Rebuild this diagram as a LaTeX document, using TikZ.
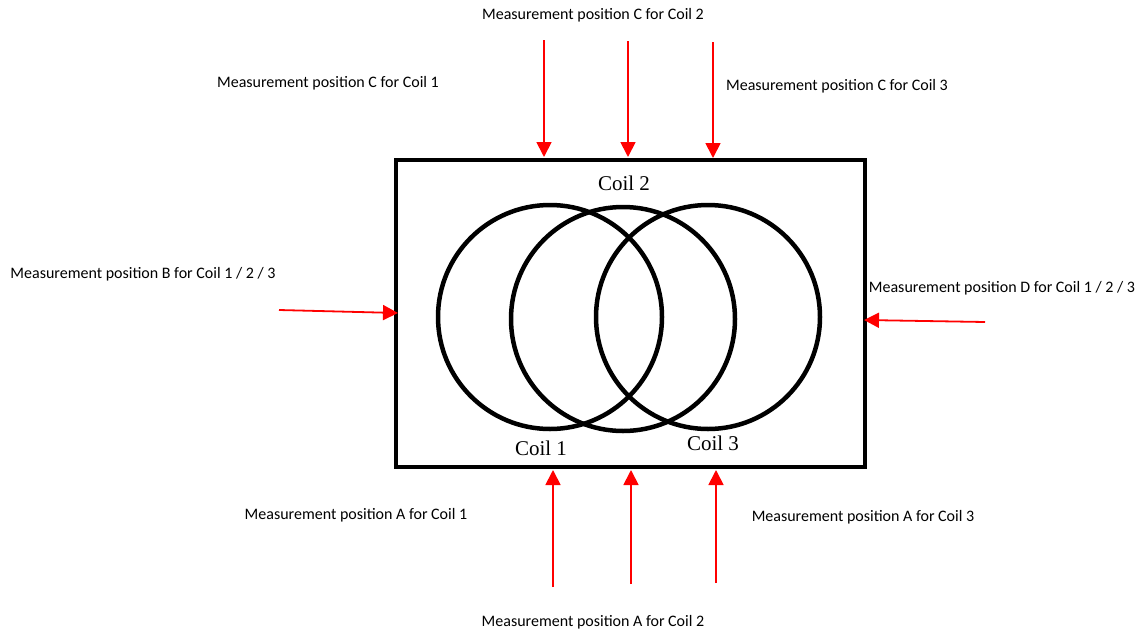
\documentclass[tikz,border=0pt]{standalone}
\usepackage{fontspec}
\setmainfont{Liberation Serif}
\newfontfamily\calib{Carlito}
\usetikzlibrary{arrows.meta}
\tikzset{
  meas/.style={font=\calib\fontsize{16}{19}\selectfont, inner sep=0pt},
  coillabel/.style={font=\fontsize{21}{24}\selectfont, inner sep=0pt},
  coil/.style={draw, circle, line width=4.5pt, minimum size=224pt, inner sep=0pt},
  redarrow/.style={draw=red, line width=1.8pt, -{Triangle[length=15pt,width=15pt]}},
}
\begin{document}
\begin{tikzpicture}[x=1pt,y=-1pt]
\useasboundingbox (0,0) rectangle (1138,635);
% frame
\node[draw, line width=4.5pt, minimum width=469pt, minimum height=307pt, inner sep=0pt, outer sep=0pt, anchor=north west] (frame) at (396,160) {};
% coils
\node[coil] (c1) at (550,317) {};
\node[coil] (c2) at (623,319) {};
\node[coil] (c3) at (708,317) {};
\node[coillabel] (l2) at (624,183) {Coil 2};
\node[coillabel] (l1) at (541,448) {Coil 1};
\node[coillabel] (l3) at (713,443) {Coil 3};
% coordinates for arrows
\coordinate (t1s) at (544,40);  \coordinate (t1e) at (544,157);
\coordinate (t2s) at (628,41);  \coordinate (t2e) at (628,157);
\coordinate (t3s) at (713,42);  \coordinate (t3e) at (713,158);
\coordinate (b1s) at (553,587); \coordinate (b1e) at (553,470);
\coordinate (b2s) at (631,584); \coordinate (b2e) at (631,470);
\coordinate (b3s) at (716,583); \coordinate (b3e) at (716,470);
\coordinate (ls) at (279,310);  \coordinate (le) at (398,313);
\coordinate (rs) at (985,322);  \coordinate (re) at (864,320);
\draw[redarrow] (t1s) -- (t1e);
\draw[redarrow] (t2s) -- (t2e);
\draw[redarrow] (t3s) -- (t3e);
\draw[redarrow] (b1s) -- (b1e);
\draw[redarrow] (b2s) -- (b2e);
\draw[redarrow] (b3s) -- (b3e);
\draw[redarrow] (ls) -- (le);
\draw[redarrow] (rs) -- (re);
% labels
\node[meas] (mc2) at (593,15) {Measurement position C for Coil 2};
\node[meas] (mc1) at (328,83) {Measurement position C for Coil 1};
\node[meas] (mc3) at (837,86) {Measurement position C for Coil 3};
\node[meas] (mb) at (143,274) {Measurement position B for Coil 1 / 2 / 3};
\node[meas] (md) at (1002,288) {Measurement position D for Coil 1 / 2 / 3};
\node[meas] (ma1) at (356,515) {Measurement position A for Coil 1};
\node[meas] (ma3) at (863,517) {Measurement position A for Coil 3};
\node[meas] (ma2) at (593,622) {Measurement position A for Coil 2};
\end{tikzpicture}
\end{document}
